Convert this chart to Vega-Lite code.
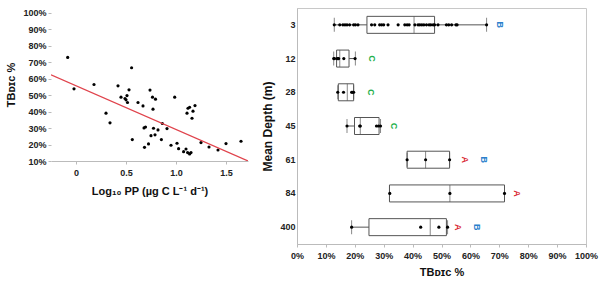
{
  "$schema": "https://vega.github.io/schema/vega-lite/v6.json",
  "padding": {"left": 5, "top": 7, "right": 3, "bottom": 5},
  "background": "white",
  "spacing": 13,
  "config": {
    "font": "Liberation Sans",
    "view": {"stroke": "#c8c8c8"},
    "axis": {
      "labelFont": "Liberation Sans", "labelFontWeight": "bold", "labelFontSize": 9, "labelColor": "#222",
      "titleFont": "Liberation Sans", "titleFontWeight": "bold", "titleFontSize": 11, "titleColor": "#111",
      "domainColor": "#bbb", "tickColor": "#bbb", "grid": false, "tickSize": 3, "labelPadding": 2,
      "labelOverlap": false, "labelFlush": false
    },
    "axisQuantitative": {"labelOverlap": false},
    "axisX": {"labelOverlap": false, "labelFlush": false},
    "axisY": {"labelOverlap": false, "labelFlush": false}
  },
  "datasets": {
    "scatter": [
      {"log_pp": -0.083, "tb": 0.730}, {"log_pp": -0.02, "tb": 0.539}, {"log_pp": 0.18, "tb": 0.565},
      {"log_pp": 0.30, "tb": 0.391}, {"log_pp": 0.34, "tb": 0.332}, {"log_pp": 0.42, "tb": 0.557},
      {"log_pp": 0.45, "tb": 0.488}, {"log_pp": 0.49, "tb": 0.480}, {"log_pp": 0.50, "tb": 0.472},
      {"log_pp": 0.51, "tb": 0.498}, {"log_pp": 0.515, "tb": 0.456}, {"log_pp": 0.53, "tb": 0.533},
      {"log_pp": 0.556, "tb": 0.667}, {"log_pp": 0.563, "tb": 0.230}, {"log_pp": 0.62, "tb": 0.456},
      {"log_pp": 0.67, "tb": 0.435}, {"log_pp": 0.68, "tb": 0.301}, {"log_pp": 0.695, "tb": 0.307},
      {"log_pp": 0.685, "tb": 0.183}, {"log_pp": 0.725, "tb": 0.204}, {"log_pp": 0.74, "tb": 0.531},
      {"log_pp": 0.75, "tb": 0.254}, {"log_pp": 0.765, "tb": 0.488}, {"log_pp": 0.77, "tb": 0.415},
      {"log_pp": 0.775, "tb": 0.299}, {"log_pp": 0.795, "tb": 0.476}, {"log_pp": 0.79, "tb": 0.259},
      {"log_pp": 0.82, "tb": 0.289}, {"log_pp": 0.864, "tb": 0.328}, {"log_pp": 0.854, "tb": 0.230},
      {"log_pp": 0.91, "tb": 0.297}, {"log_pp": 0.95, "tb": 0.196}, {"log_pp": 0.987, "tb": 0.488},
      {"log_pp": 1.01, "tb": 0.208}, {"log_pp": 1.026, "tb": 0.175}, {"log_pp": 1.076, "tb": 0.157},
      {"log_pp": 1.10, "tb": 0.173}, {"log_pp": 1.11, "tb": 0.391}, {"log_pp": 1.12, "tb": 0.421},
      {"log_pp": 1.136, "tb": 0.427}, {"log_pp": 1.116, "tb": 0.151}, {"log_pp": 1.136, "tb": 0.143},
      {"log_pp": 1.15, "tb": 0.151}, {"log_pp": 1.16, "tb": 0.360}, {"log_pp": 1.17, "tb": 0.403},
      {"log_pp": 1.19, "tb": 0.437}, {"log_pp": 1.25, "tb": 0.212}, {"log_pp": 1.33, "tb": 0.185},
      {"log_pp": 1.42, "tb": 0.167}, {"log_pp": 1.50, "tb": 0.206}, {"log_pp": 1.65, "tb": 0.220}
    ],
    "fit": [
      {"log_pp": -0.25, "tb": 0.624},
      {"log_pp": 1.72, "tb": 0.100}
    ],
    "boxes": [
      {"depth": 3, "lower": 0.129, "q1": 0.242, "median": 0.405, "q3": 0.476, "upper": 0.656},
      {"depth": 12, "lower": 0.127, "q1": 0.137, "median": 0.148, "q3": 0.180, "upper": 0.202},
      {"depth": 28, "lower": 0.141, "q1": 0.143, "median": 0.174, "q3": 0.196, "upper": 0.196},
      {"depth": 45, "lower": 0.173, "q1": 0.199, "median": 0.219, "q3": 0.284, "upper": 0.289},
      {"depth": 61, "lower": 0.381, "q1": 0.381, "median": 0.445, "q3": 0.528, "upper": 0.528},
      {"depth": 84, "lower": 0.320, "q1": 0.320, "median": 0.529, "q3": 0.718, "upper": 0.718},
      {"depth": 400, "lower": 0.189, "q1": 0.249, "median": 0.461, "q3": 0.517, "upper": 0.521}
    ],
    "points": [
      {"depth": 3, "tb": 0.129}, {"depth": 3, "tb": 0.148}, {"depth": 3, "tb": 0.159}, {"depth": 3, "tb": 0.166},
      {"depth": 3, "tb": 0.173}, {"depth": 3, "tb": 0.182}, {"depth": 3, "tb": 0.196}, {"depth": 3, "tb": 0.202},
      {"depth": 3, "tb": 0.211}, {"depth": 3, "tb": 0.258}, {"depth": 3, "tb": 0.269}, {"depth": 3, "tb": 0.286},
      {"depth": 3, "tb": 0.293}, {"depth": 3, "tb": 0.300}, {"depth": 3, "tb": 0.315}, {"depth": 3, "tb": 0.350},
      {"depth": 3, "tb": 0.373}, {"depth": 3, "tb": 0.381}, {"depth": 3, "tb": 0.388}, {"depth": 3, "tb": 0.408},
      {"depth": 3, "tb": 0.419}, {"depth": 3, "tb": 0.425}, {"depth": 3, "tb": 0.432}, {"depth": 3, "tb": 0.439},
      {"depth": 3, "tb": 0.448}, {"depth": 3, "tb": 0.457}, {"depth": 3, "tb": 0.463}, {"depth": 3, "tb": 0.471},
      {"depth": 3, "tb": 0.476}, {"depth": 3, "tb": 0.488}, {"depth": 3, "tb": 0.517}, {"depth": 3, "tb": 0.525},
      {"depth": 3, "tb": 0.535}, {"depth": 3, "tb": 0.550}, {"depth": 3, "tb": 0.554}, {"depth": 3, "tb": 0.656},
      {"depth": 12, "tb": 0.127}, {"depth": 12, "tb": 0.130}, {"depth": 12, "tb": 0.139}, {"depth": 12, "tb": 0.142},
      {"depth": 12, "tb": 0.144}, {"depth": 12, "tb": 0.162}, {"depth": 12, "tb": 0.201},
      {"depth": 28, "tb": 0.141}, {"depth": 28, "tb": 0.161}, {"depth": 28, "tb": 0.189}, {"depth": 28, "tb": 0.192},
      {"depth": 28, "tb": 0.196},
      {"depth": 45, "tb": 0.173}, {"depth": 45, "tb": 0.217}, {"depth": 45, "tb": 0.219}, {"depth": 45, "tb": 0.275},
      {"depth": 45, "tb": 0.282}, {"depth": 45, "tb": 0.289},
      {"depth": 61, "tb": 0.381}, {"depth": 61, "tb": 0.445}, {"depth": 61, "tb": 0.528},
      {"depth": 84, "tb": 0.321}, {"depth": 84, "tb": 0.529}, {"depth": 84, "tb": 0.718},
      {"depth": 400, "tb": 0.189}, {"depth": 400, "tb": 0.428}, {"depth": 400, "tb": 0.491}, {"depth": 400, "tb": 0.521}
    ],
    "letters": [
      {"depth": 3, "tb": 0.704, "letter": "B"},
      {"depth": 12, "tb": 0.261, "letter": "C"},
      {"depth": 28, "tb": 0.255, "letter": "C"},
      {"depth": 45, "tb": 0.334, "letter": "C"},
      {"depth": 61, "tb": 0.580, "letter": "A"},
      {"depth": 61, "tb": 0.648, "letter": "B"},
      {"depth": 84, "tb": 0.762, "letter": "A"},
      {"depth": 400, "tb": 0.557, "letter": "A"},
      {"depth": 400, "tb": 0.624, "letter": "B"}
    ]
  },
  "hconcat": [
    {
      "width": 197,
      "height": 153,
      "view": {"stroke": null},
      "layer": [
        {
          "data": {"name": "scatter"},
          "mark": {"type": "circle", "size": 10, "color": "#000", "opacity": 1},
          "encoding": {
            "x": {
              "field": "log_pp", "type": "quantitative",
              "scale": {"domain": [-0.25, 1.72], "nice": false, "zero": false},
              "axis": {
                "values": [0, 0.25, 0.5, 0.75, 1, 1.25, 1.5],
                "labelExpr": "datum.value % 0.5 == 0 ? (datum.value == 0 ? '0' : format(datum.value, '.1f')) : ''",
                "titlePadding": 8, "labelPadding": 4, "labelOverlap": false, "labelBound": false, "labelFlush": false
              },
              "title": "Log₁₀ PP (µg C L⁻¹ d⁻¹)"
            },
            "y": {
              "field": "tb", "type": "quantitative",
              "scale": {"domain": [0.1, 1.0304], "nice": false, "zero": false},
              "axis": {"tickCount": 10, "labelExpr": "format(datum.value, '.0%')", "domain": false, "titlePadding": 6, "labelOverlap": false, "labelBound": false, "labelFlush": false},
              "title": "TBᴅɪᴄ %"
            }
          }
        },
        {
          "data": {"name": "fit"},
          "mark": {"type": "line", "color": "#e0434c", "strokeWidth": 1.2, "clip": true},
          "encoding": {
            "x": {"field": "log_pp", "type": "quantitative"},
            "y": {"field": "tb", "type": "quantitative"}
          }
        },
        {
          "mark": {"type": "rule", "color": "#c8c8c8", "strokeWidth": 1},
          "encoding": {"x": {"datum": -0.25}, "y": {"datum": 0.1}, "y2": {"datum": 1.0}}
        },
        {
          "mark": {"type": "rule", "color": "#c8c8c8", "strokeWidth": 1},
          "encoding": {"x": {"datum": 1.72}, "y": {"datum": 0.1}, "y2": {"datum": 1.0}}
        },
        {
          "mark": {"type": "rule", "color": "#c8c8c8", "strokeWidth": 1},
          "encoding": {"y": {"datum": 1.0}}
        },
        {
          "mark": {"type": "text", "text": "(a)", "fontSize": 12, "fontWeight": "bold", "font": "Liberation Sans", "color": "#111"},
          "encoding": {"x": {"datum": 1.6}, "y": {"datum": 0.93}}
        }
      ]
    },
    {
      "width": 289,
      "height": 236,
      "layer": [
        {
          "data": {"name": "boxes"},
          "mark": {"type": "rule", "color": "#555", "strokeWidth": 1},
          "encoding": {
            "x": {
              "field": "lower", "type": "quantitative",
              "scale": {"domain": [0, 1], "nice": false},
              "axis": {"tickCount": 10, "labelExpr": "format(datum.value, '.0%')", "labelPadding": 4, "titlePadding": 6, "labelOverlap": false, "labelBound": false, "labelFlush": false},
              "title": "TBᴅɪᴄ %"
            },
            "x2": {"field": "upper"},
            "y": {
              "field": "depth", "type": "ordinal",
              "scale": {"domain": [3, 12, 28, 45, 61, 84, 400], "paddingInner": 0, "paddingOuter": 0},
              "axis": {"ticks": false, "labelPadding": 2, "titlePadding": 5, "titleFontSize": 12, "labelOverlap": false},
              "title": "Mean Depth (m)"
            }
          }
        },
        {
          "data": {"name": "boxes"},
          "mark": {"type": "bar", "size": 17, "fill": "white", "stroke": "#555", "strokeWidth": 1},
          "encoding": {
            "x": {"field": "q1", "type": "quantitative"},
            "x2": {"field": "q3"},
            "y": {"field": "depth", "type": "ordinal"}
          }
        },
        {
          "data": {"name": "boxes"},
          "mark": {"type": "tick", "size": 17, "thickness": 1, "color": "#555"},
          "encoding": {
            "x": {"field": "median", "type": "quantitative"},
            "y": {"field": "depth", "type": "ordinal"}
          }
        },
        {
          "data": {"name": "boxes"},
          "mark": {"type": "tick", "size": 14, "thickness": 1, "color": "#555"},
          "encoding": {
            "x": {"field": "lower", "type": "quantitative"},
            "y": {"field": "depth", "type": "ordinal"}
          }
        },
        {
          "data": {"name": "boxes"},
          "mark": {"type": "tick", "size": 14, "thickness": 1, "color": "#555"},
          "encoding": {
            "x": {"field": "upper", "type": "quantitative"},
            "y": {"field": "depth", "type": "ordinal"}
          }
        },
        {
          "data": {"name": "points"},
          "mark": {"type": "circle", "size": 10, "color": "#000", "opacity": 1},
          "encoding": {
            "x": {"field": "tb", "type": "quantitative"},
            "y": {"field": "depth", "type": "ordinal"}
          }
        },
        {
          "data": {"name": "letters"},
          "mark": {"type": "text", "fontSize": 9, "fontWeight": "bold", "font": "Liberation Sans", "angle": 90},
          "encoding": {
            "x": {"field": "tb", "type": "quantitative"},
            "y": {"field": "depth", "type": "ordinal"},
            "text": {"field": "letter"},
            "color": {
              "field": "letter", "type": "nominal",
              "scale": {"domain": ["A", "B", "C"], "range": ["#d9262f", "#2a80cc", "#22b04b"]},
              "legend": null
            }
          }
        },
        {
          "mark": {"type": "text", "text": "(b)", "fontSize": 12, "fontWeight": "bold", "font": "Liberation Sans", "color": "#111"},
          "encoding": {"x": {"datum": 0.955, "type": "quantitative"}, "y": {"datum": 3, "type": "ordinal"}}
        }
      ]
    }
  ]
}
